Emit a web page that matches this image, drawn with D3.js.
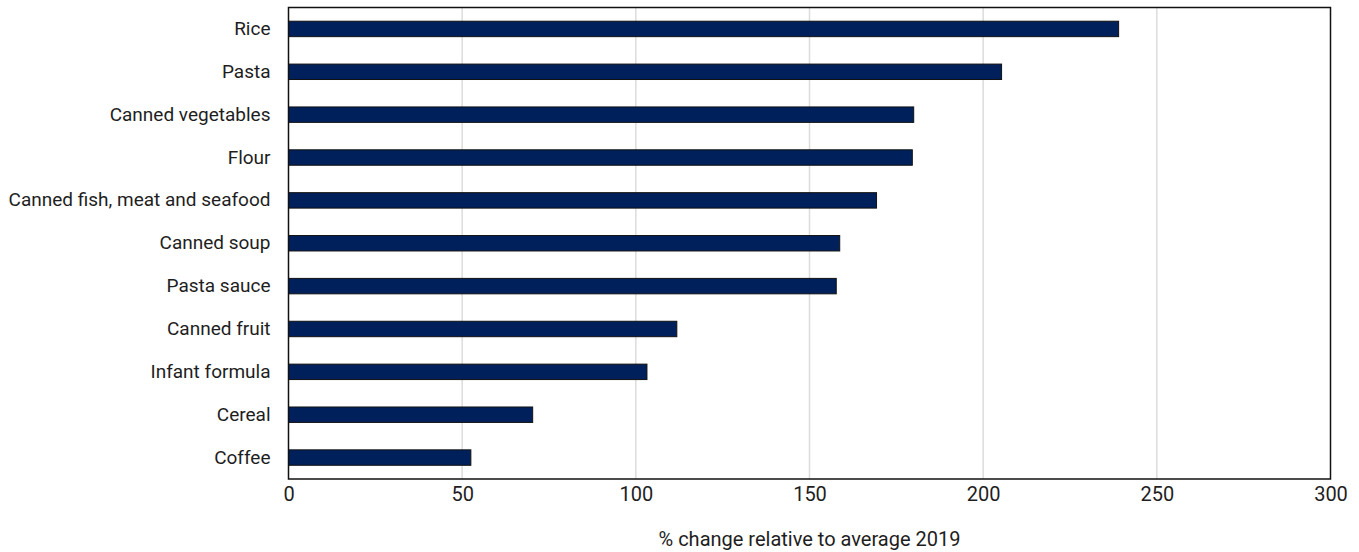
<!DOCTYPE html>
<html>
<head>
<meta charset="utf-8">
<script src="https://cdn.jsdelivr.net/npm/d3@7"></script>
<style>
  html, body { margin: 0; padding: 0; background: #fff; }
  svg { display: block; }
  text { font-family: Roboto, "Liberation Sans", sans-serif; fill: #1e1e1e; }
</style>
</head>
<body>
<svg id="chart" width="1359" height="552"></svg>
<script>
// Food items, top to bottom
const categories = [
  "Rice", "Pasta", "Canned vegetables", "Flour", "Canned fish, meat and seafood",
  "Canned soup", "Pasta sauce", "Canned fruit", "Infant formula", "Cereal", "Coffee"
];
// % change in sales relative to the 2019 average
const values = [239, 205.3, 180, 179.6, 169.3, 158.7, 157.7, 111.8, 103.2, 70.3, 52.5];
const xTicks = [0, 50, 100, 150, 200, 250, 300];
const xTitle = "% change relative to average 2019";

const width = 1359, height = 552;
const margin = { top: 7.5, right: 28.5, bottom: 73, left: 288.5 };
const svg = d3.select("#chart");

const x = d3.scaleLinear().domain([0, 300]).range([margin.left, width - margin.right]);
const y = d3.scaleBand().domain(categories)
  .range([margin.top, height - margin.bottom])
  .paddingInner(0.64).paddingOuter(0.32);

const data = categories.map((c, i) => ({ name: c, value: values[i] }));

// vertical gridlines
svg.append("g")
  .selectAll("line")
  .data(xTicks.filter(t => t > 0 && t < 300))
  .join("line")
  .attr("x1", d => x(d)).attr("x2", d => x(d))
  .attr("y1", margin.top).attr("y2", height - margin.bottom)
  .attr("stroke", "#dcdcdc").attr("stroke-width", 1.5);

// bars
svg.append("g")
  .selectAll("rect")
  .data(data)
  .join("rect")
  .attr("x", x(0))
  .attr("y", d => y(d.name))
  .attr("width", d => x(d.value) - x(0))
  .attr("height", y.bandwidth())
  .attr("fill", "#00205c")
  .attr("stroke", "#111")
  .attr("stroke-width", 1);

// plot frame
svg.append("rect")
  .attr("x", margin.left).attr("y", margin.top)
  .attr("width", width - margin.right - margin.left)
  .attr("height", height - margin.bottom - margin.top)
  .attr("fill", "none").attr("stroke", "#111").attr("stroke-width", 1.5);

// x axis
const xAxis = svg.append("g")
  .attr("transform", `translate(0,${height - margin.bottom})`)
  .call(d3.axisBottom(x).tickValues(xTicks).tickSize(0).tickPadding(8).tickFormat(d3.format("d")));
xAxis.select(".domain").remove();
xAxis.selectAll("text").style("font-size", "20px").style("font-family", "Roboto, sans-serif").attr("fill", "#1e1e1e");

// y axis
const yAxis = svg.append("g")
  .attr("transform", `translate(${margin.left},0)`)
  .call(d3.axisLeft(y).tickSize(0).tickPadding(18));
yAxis.select(".domain").remove();
yAxis.selectAll("text").style("font-size", "19px").style("font-family", "Roboto, sans-serif").attr("fill", "#1e1e1e");

// x axis title
svg.append("text")
  .attr("x", (margin.left + width - margin.right) / 2)
  .attr("y", 546)
  .attr("text-anchor", "middle")
  .style("font-size", "20px")
  .text(xTitle);
</script>
</body>
</html>
